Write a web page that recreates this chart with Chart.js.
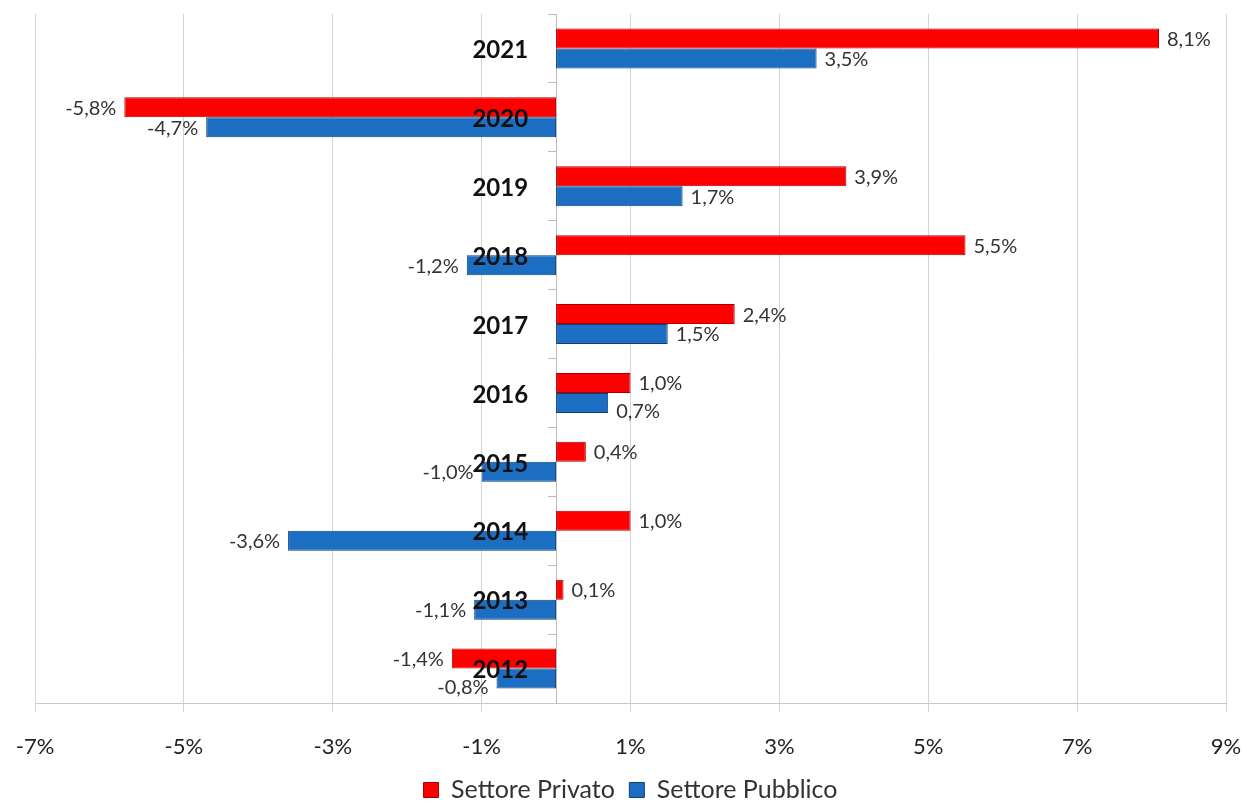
<!DOCTYPE html>
<html>
<head>
<meta charset="utf-8">
<script src="https://cdn.jsdelivr.net/npm/chart.js@4.4.0/dist/chart.umd.min.js"></script>
<style>
  body { margin:0; background:#fff; }
  #wrap { width:1247px; height:805px; }
</style>
</head>
<body>
<div id="wrap"><canvas id="myChart"></canvas></div>
<script>
var anni = ["2021","2020","2019","2018","2017","2016","2015","2014","2013","2012"]
var privato = [8.1, -5.8, 3.9, 5.5, 2.4, 1.0, 0.4, 1.0, 0.1, -1.4]
var pubblico = [3.5, -4.7, 1.7, -1.2, 1.5, 0.7, -1.0, -3.6, -1.1, -0.8]
var xTicks = [-7, -5, -3, -1, 1, 3, 5, 7, 9]

var fontName = "Lato, 'Open Sans', sans-serif"

function perc(v){
	return v.toFixed(1).replace(".", ",") + "%"
}

// etichette dei valori accanto alle barre + anni sopra le barre
var valueLabels = {
	id: "valueLabels",
	afterDatasetsDraw: function(chart){
		var ctx = chart.ctx
		ctx.save()
		ctx.font = "20px " + fontName
		ctx.fillStyle = "#333"
		ctx.textBaseline = "middle"
		var boxes = []
		chart.data.datasets.forEach(function(ds, i){
			var meta = chart.getDatasetMeta(i)
			meta.data.forEach(function(bar, j){
				var v = ds.data[j]
				var t = perc(v)
				var w = ctx.measureText(t).width
				var left = v >= 0 ? bar.x + 8 : bar.x - 8 - w
				var y = bar.y + 1
				// se si sovrappone all'etichetta rossa la sposto un po' giu
				if (i == 1 && boxes[j]) {
					var b = boxes[j]
					if (left < b.r && left + w > b.l && y - b.y < 26) y = b.y + 28
				}
				if (i == 0) boxes[j] = { l: left, r: left + w, y: y }
				ctx.textAlign = "left"
				ctx.fillText(t, left, y)
			})
		})
		// anni, a sinistra dell'asse zero
		var x0 = chart.scales.x.getPixelForValue(0)
		ctx.font = "bold 24px " + fontName
		ctx.fillStyle = "#111"
		ctx.textAlign = "right"
		anni.forEach(function(a, j){
			ctx.fillText(a, x0 - 28, chart.scales.y.getPixelForValue(j) + 2)
		})
		ctx.restore()
	}
}

var ctx = document.getElementById("myChart")
var myChart = new Chart(ctx, {
	type: "bar",
	data: {
		labels: anni,
		datasets: [{
			label: "Settore Privato",
			data: privato,
			backgroundColor: "#ff0000",
			borderColor: "#a80000",
			borderWidth: 1,
			borderSkipped: false
		}, {
			label: "Settore Pubblico",
			data: pubblico,
			backgroundColor: "#1c6ec2",
			borderColor: "#0d3f78",
			borderWidth: 1,
			borderSkipped: false
		}]
	},
	options: {
		indexAxis: "y",
		responsive: true,
		maintainAspectRatio: false,
		animation: false,
		datasets: { bar: { categoryPercentage: 0.58, barPercentage: 1.0 } },
		layout: { padding: { top: 14, left: 35, right: 21, bottom: -7.5 } },
		scales: {
			x: {
				min: -7,
				max: 9,
				afterBuildTicks: function(axis){
					axis.ticks = xTicks.map(function(v){ return { value: v } })
				},
				afterFit: function(axis){
					axis.paddingLeft = 0
					axis.paddingRight = 0
					axis.height = 60
				},
				grid: { color: "#d4d4d4", tickLength: 9 },
				border: { color: "#c8c8c8" },
				ticks: {
					padding: 22,
					color: "#222",
					font: { size: 22, family: fontName },
					callback: function(v){ return v + "%" }
				}
			},
			y: {
				position: { x: 0 },
				grid: { drawOnChartArea: false, offset: true, tickLength: 8, color: "#bbb" },
				border: { color: "#bbb" },
				ticks: { display: false }
			}
		},
		plugins: {
			legend: {
				position: "bottom",
				labels: {
					boxWidth: 15,
					boxHeight: 15,
					padding: 14.5,
					color: "#333",
					font: { size: 25, family: fontName, lineHeight: 1 }
				}
			},
			tooltip: { enabled: false }
		}
	},
	plugins: [valueLabels]
})
</script>
</body>
</html>
